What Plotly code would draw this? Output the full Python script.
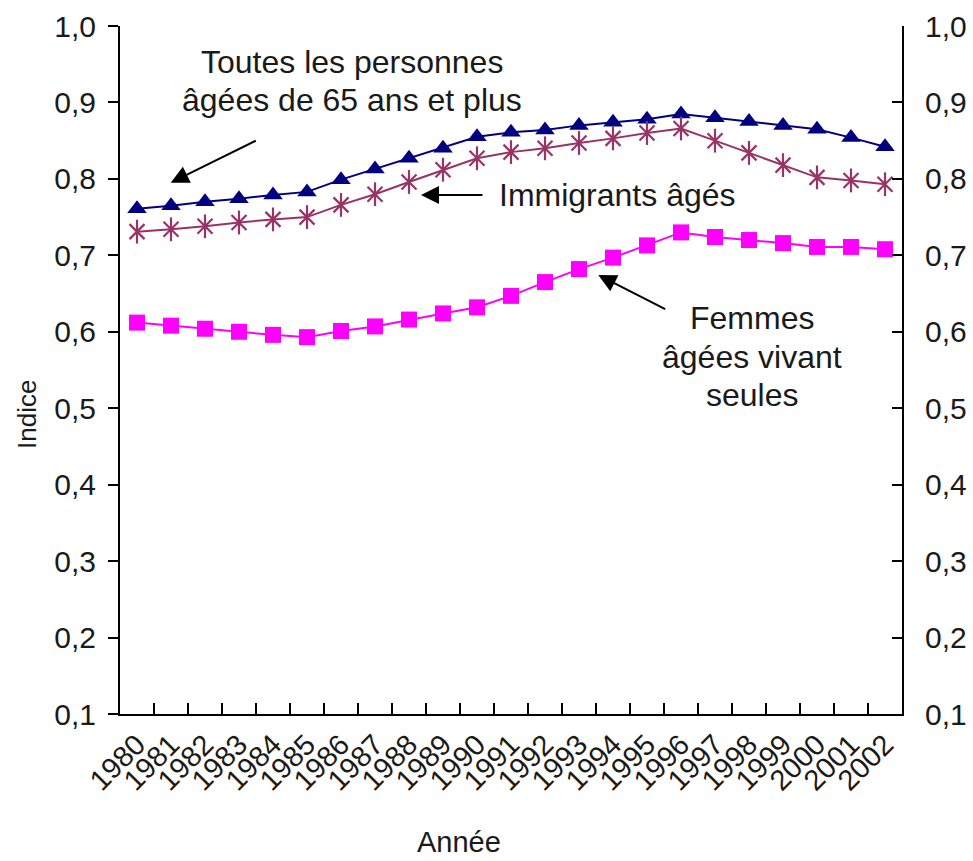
import plotly.graph_objects as go

years = [str(y) for y in range(1980, 2003)]

toutes = [0.761, 0.765, 0.770, 0.774, 0.779, 0.783, 0.799, 0.813, 0.827, 0.840,
          0.855, 0.861, 0.864, 0.870, 0.874, 0.878, 0.885, 0.880, 0.875, 0.870,
          0.865, 0.854, 0.842]
immigrants = [0.731, 0.734, 0.738, 0.743, 0.747, 0.750, 0.766, 0.780, 0.796, 0.812,
              0.827, 0.835, 0.840, 0.847, 0.853, 0.860, 0.866, 0.850, 0.834, 0.818,
              0.802, 0.798, 0.793]
femmes = [0.612, 0.608, 0.604, 0.600, 0.596, 0.593, 0.601, 0.607, 0.616, 0.624,
          0.632, 0.647, 0.665, 0.682, 0.697, 0.713, 0.730, 0.724, 0.720, 0.716,
          0.711, 0.711, 0.708]

y_ticks = [0.1, 0.2, 0.3, 0.4, 0.5, 0.6, 0.7, 0.8, 0.9, 1.0]

NAVY = "#000080"
PLUM = "#993366"
MAGENTA = "#FF00FF"
FONT = "Liberation Sans, Arial, sans-serif"
TXT = "#1a1a1a"

fig = go.Figure()

fig.add_trace(go.Scatter(
    x=years, y=toutes, mode="lines+markers", name="Toutes",
    line=dict(color=NAVY, width=2),
    marker=dict(symbol="triangle-up", size=17, color=NAVY),
))
fig.add_trace(go.Scatter(
    x=years, y=immigrants, mode="lines+markers", name="Immigrants",
    line=dict(color=PLUM, width=2),
    marker=dict(symbol="x-thin-open", size=15, color=PLUM, line=dict(color=PLUM, width=2.2)),
))
fig.add_trace(go.Scatter(
    x=years, y=immigrants, mode="markers", name="Immigrants2", showlegend=False,
    marker=dict(symbol="line-ns-open", size=17, color=PLUM, line=dict(color=PLUM, width=2.2)),
))
fig.add_trace(go.Scatter(
    x=years, y=femmes, mode="lines+markers", name="Femmes",
    line=dict(color=MAGENTA, width=2),
    marker=dict(symbol="square", size=16, color=MAGENTA),
))

tick_text = ["{:.1f}".format(v).replace(".", ",") for v in y_ticks]

fig.update_layout(
    width=973, height=861,
    margin=dict(l=120, r=71, t=26, b=147, autoexpand=False),
    paper_bgcolor="white", plot_bgcolor="white",
    showlegend=False,
    font=dict(family=FONT, color=TXT, size=28),
    xaxis=dict(
        type="category", range=[-0.5, 22.5],
        tickmode="array", tickvals=years, ticktext=years,
        showline=True, linecolor="black", linewidth=2,
        ticks="inside", tickson="boundaries", ticklen=11, tickwidth=2, tickcolor="black",
        tickangle=-45, tickfont=dict(size=29, color=TXT),
        showgrid=False, zeroline=False, automargin=False,
    ),
    yaxis=dict(
        range=[0.1, 1.0], tickvals=y_ticks, ticktext=tick_text,
        showline=True, linecolor="black", linewidth=2,
        ticks="outside", ticklen=10, tickwidth=2, tickcolor="black",
        tickfont=dict(size=30, color=TXT), ticklabelstandoff=6,
        showgrid=False, zeroline=False, automargin=False,
    ),
    yaxis2=dict(
        range=[0.1, 1.0], tickvals=y_ticks, ticktext=tick_text,
        overlaying="y", side="right", anchor="x",
        showline=True, linecolor="black", linewidth=2,
        ticks="inside", ticklen=10, tickwidth=2, tickcolor="black",
        tickfont=dict(size=30, color=TXT), ticklabelstandoff=15,
        showgrid=False, zeroline=False, automargin=False,
    ),
)

# invisible trace to activate right axis
fig.add_trace(go.Scatter(x=[years[0]], y=[None], yaxis="y2", mode="markers",
                         showlegend=False, hoverinfo="skip"))


def px_to_paper(px, py):
    return (px - 120) / 782, (714 - py) / 688


annots = []
text_lines = [
    ("Toutes les personnes", 352, 62, "center", 32),
    ("âgées de 65 ans et plus", 352, 100, "center", 32),
    ("Immigrants âgés", 497, 195, "left", 32),
    ("Femmes", 752, 318, "center", 32),
    ("âgées vivant", 752, 357, "center", 32),
    ("seules", 752, 395, "center", 32),
]
for txt, px, py, anchor, sz in text_lines:
    x, y = px_to_paper(px, py)
    annots.append(dict(text=txt, x=x, y=y, xref="paper", yref="paper", showarrow=False,
                       xanchor=anchor, yanchor="middle", font=dict(size=sz)))

ix, iy = px_to_paper(27, 415)
annots.append(dict(text="Indice", x=ix, y=iy, xref="paper", yref="paper", showarrow=False,
                   textangle=-90, xanchor="center", yanchor="middle", font=dict(size=26)))
ax_, ay_ = px_to_paper(459, 842)
annots.append(dict(text="Année", x=ax_, y=ay_, xref="paper", yref="paper", showarrow=False,
                   xanchor="center", yanchor="middle", font=dict(size=29)))

arrows = [((170.7, 182.7), (257.3, 140.0)),
          ((421.0, 195.0), (484.0, 195.0)),
          ((598.3, 275.0), (666.7, 310.0))]
for head, tail in arrows:
    hx, hy = px_to_paper(*head)
    annots.append(dict(text="", x=hx, y=hy, xref="paper", yref="paper",
                       ax=tail[0] - head[0], ay=tail[1] - head[1],
                       showarrow=True, arrowhead=2, arrowsize=1.8, arrowwidth=2,
                       arrowcolor="black", standoff=0))

fig.update_layout(annotations=annots)

fig.write_html("out.html", config={"displayModeBar": False},
               post_script="document.body.style.margin='0';document.body.style.padding='0';")
